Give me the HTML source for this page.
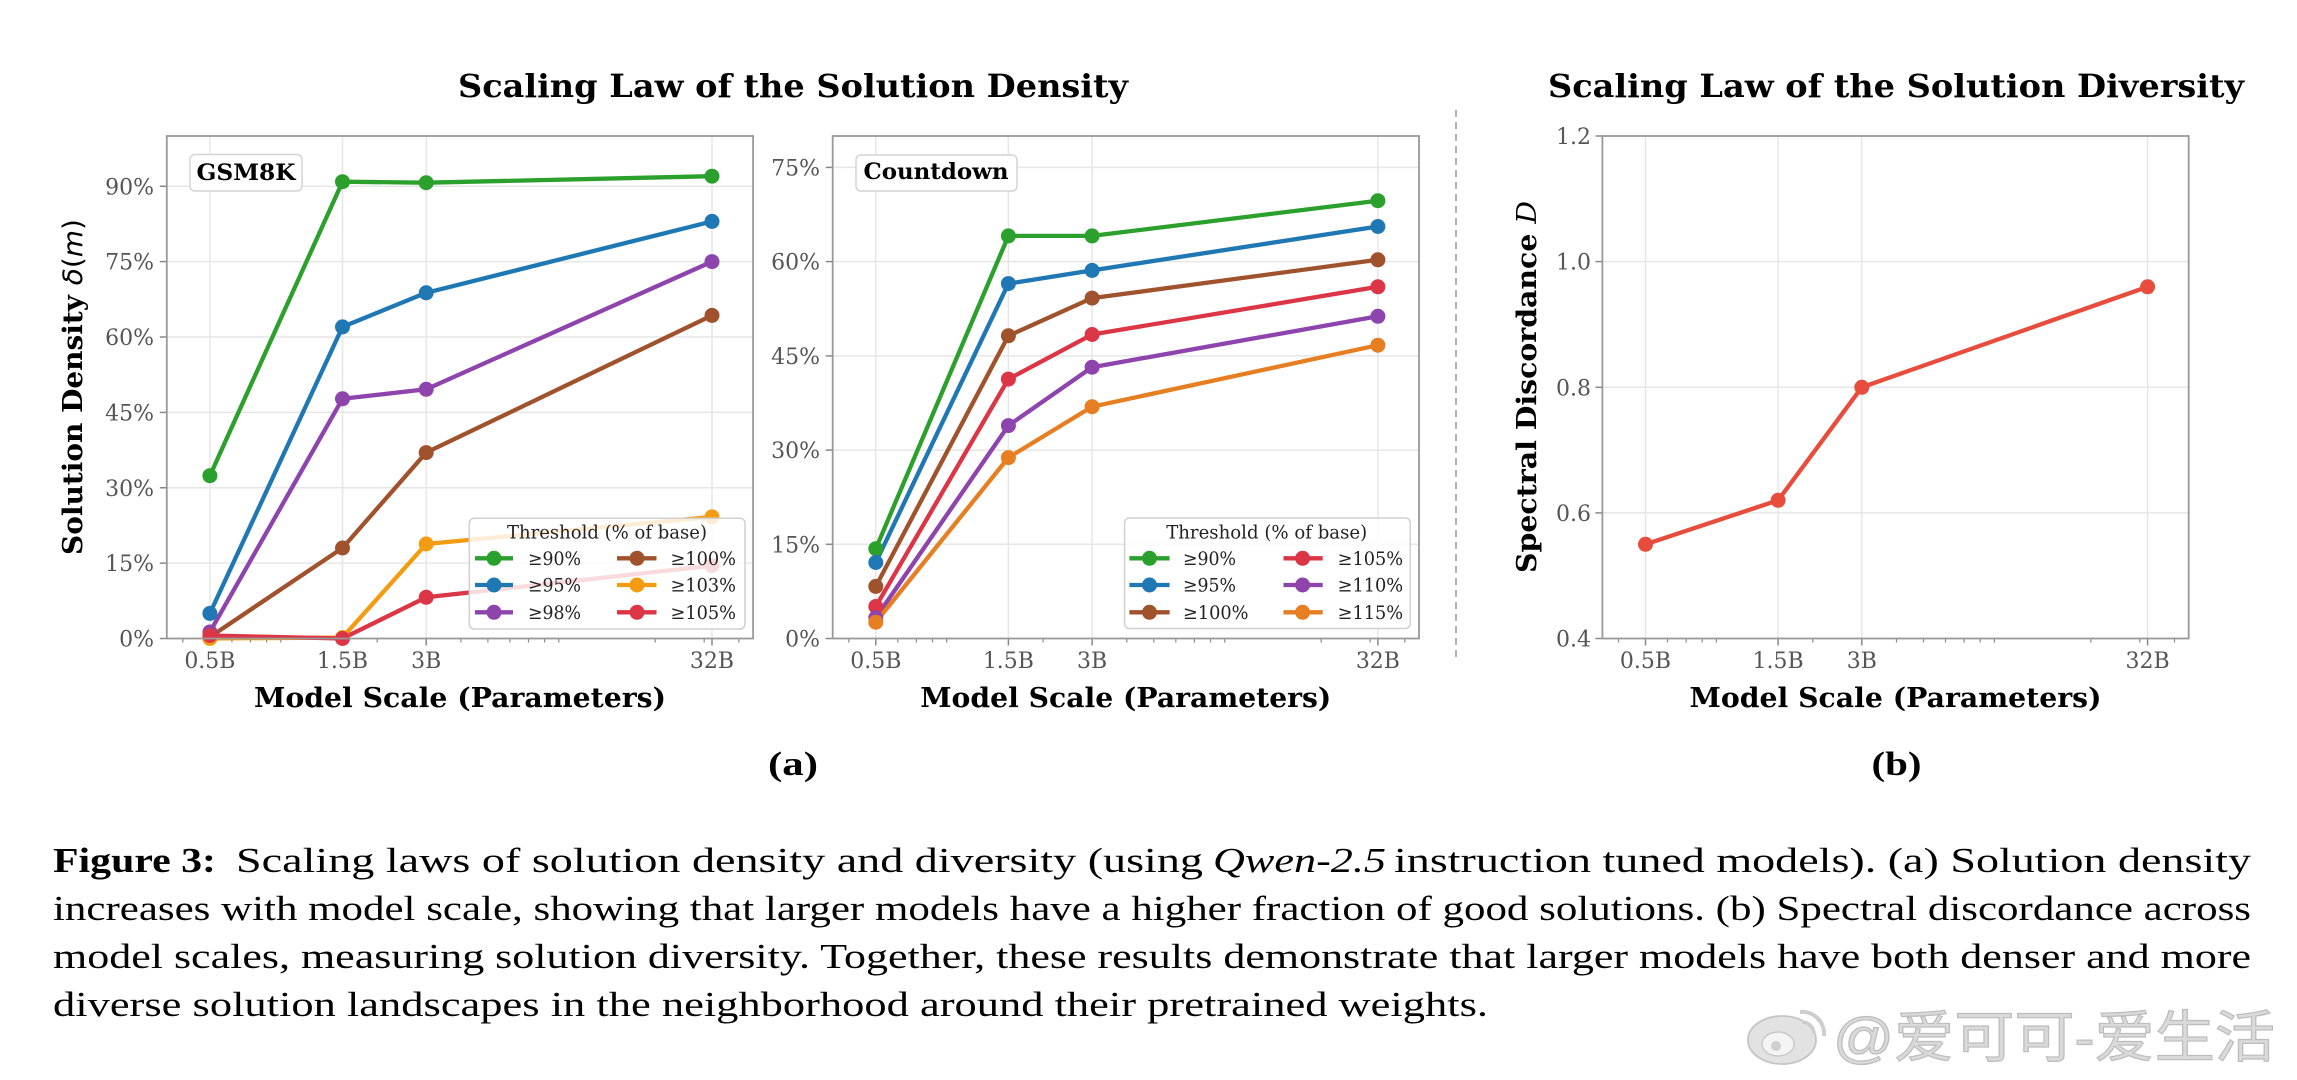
<!DOCTYPE html>
<html>
<head>
<meta charset="utf-8">
<style>
  html,body{margin:0;padding:0;background:#fff;}
  svg{display:block;}
  .tick{font-family:"DejaVu Serif","Liberation Serif",serif;font-size:22px;fill:#555;}
  .lab{font-family:"DejaVu Serif","Liberation Serif",serif;font-weight:bold;fill:#000;}
  .leg{font-family:"DejaVu Serif","Liberation Serif",serif;font-size:18.5px;fill:#222;}
  .cap{font-family:"Liberation Serif",serif;font-size:35px;fill:#000;}
</style>
</head>
<body>
<svg width="2297" height="1080" viewBox="0 0 2297 1080" xmlns="http://www.w3.org/2000/svg">
  <rect width="2297" height="1080" fill="#fff"/>

  <!-- Titles -->
  <text class="lab" x="793" y="97" font-size="32" text-anchor="middle" textLength="670" lengthAdjust="spacingAndGlyphs">Scaling Law of the Solution Density</text>
  <text class="lab" x="1896" y="97" font-size="32" text-anchor="middle" textLength="696" lengthAdjust="spacingAndGlyphs">Scaling Law of the Solution Diversity</text>

  <!-- Divider -->
  <line x1="1456" y1="110" x2="1456" y2="658" stroke="#999" stroke-width="1.5" stroke-dasharray="7,5"/>

  <!-- ============ PANEL A: GSM8K ============ -->
  <g>
    <g stroke="#e6e6e6" stroke-width="1.5">
      <line x1="209.9" y1="136" x2="209.9" y2="638.5"/>
      <line x1="342.5" y1="136" x2="342.5" y2="638.5"/>
      <line x1="426.2" y1="136" x2="426.2" y2="638.5"/>
      <line x1="712.0" y1="136" x2="712.0" y2="638.5"/>
      <line x1="166.8" y1="563.1" x2="753.1" y2="563.1"/>
      <line x1="166.8" y1="487.75" x2="753.1" y2="487.75"/>
      <line x1="166.8" y1="412.4" x2="753.1" y2="412.4"/>
      <line x1="166.8" y1="337" x2="753.1" y2="337"/>
      <line x1="166.8" y1="261.6" x2="753.1" y2="261.6"/>
      <line x1="166.8" y1="186.25" x2="753.1" y2="186.25"/>
    </g>
    <g stroke="#888" stroke-width="1.5">
      <line x1="159.8" y1="638.5" x2="166.8" y2="638.5"/>
      <line x1="159.8" y1="563.1" x2="166.8" y2="563.1"/>
      <line x1="159.8" y1="487.75" x2="166.8" y2="487.75"/>
      <line x1="159.8" y1="412.4" x2="166.8" y2="412.4"/>
      <line x1="159.8" y1="337" x2="166.8" y2="337"/>
      <line x1="159.8" y1="261.6" x2="166.8" y2="261.6"/>
      <line x1="159.8" y1="186.25" x2="166.8" y2="186.25"/>
      <line x1="209.9" y1="638.5" x2="209.9" y2="645.5"/>
      <line x1="342.5" y1="638.5" x2="342.5" y2="645.5"/>
      <line x1="426.2" y1="638.5" x2="426.2" y2="645.5"/>
      <line x1="712.0" y1="638.5" x2="712.0" y2="645.5"/>
    </g>
    <g stroke="#888" stroke-width="1.2">
      <line x1="182.9" y1="638.5" x2="182.9" y2="642.5"/>
      <line x1="231.9" y1="638.5" x2="231.9" y2="642.5"/>
      <line x1="250.5" y1="638.5" x2="250.5" y2="642.5"/>
      <line x1="266.6" y1="638.5" x2="266.6" y2="642.5"/>
      <line x1="280.8" y1="638.5" x2="280.8" y2="642.5"/>
      <line x1="377.2" y1="638.5" x2="377.2" y2="642.5"/>
      <line x1="460.9" y1="638.5" x2="460.9" y2="642.5"/>
      <line x1="487.9" y1="638.5" x2="487.9" y2="642.5"/>
      <line x1="509.9" y1="638.5" x2="509.9" y2="642.5"/>
      <line x1="528.5" y1="638.5" x2="528.5" y2="642.5"/>
      <line x1="544.6" y1="638.5" x2="544.6" y2="642.5"/>
      <line x1="558.8" y1="638.5" x2="558.8" y2="642.5"/>
      <line x1="655.2" y1="638.5" x2="655.2" y2="642.5"/>
      <line x1="704.2" y1="638.5" x2="704.2" y2="642.5"/>
      <line x1="738.9" y1="638.5" x2="738.9" y2="642.5"/>
    </g>
    <g class="tick" text-anchor="end">
      <text x="154" y="646.5">0%</text>
      <text x="154" y="571.1">15%</text>
      <text x="154" y="495.75">30%</text>
      <text x="154" y="420.4">45%</text>
      <text x="154" y="345">60%</text>
      <text x="154" y="269.6">75%</text>
      <text x="154" y="194.25">90%</text>
    </g>
    <g class="tick" text-anchor="middle">
      <text x="209.9" y="668">0.5B</text>
      <text x="342.5" y="668">1.5B</text>
      <text x="426.2" y="668">3B</text>
      <text x="712.0" y="668">32B</text>
    </g>
    <g fill="none" stroke-width="4.3" stroke-linejoin="round" stroke-linecap="round">
      <polyline stroke="#2ca02c" points="209.9,475.7 342.5,181.7 426.2,182.7 712.0,176.2"/>
      <polyline stroke="#1f77b4" points="209.9,613.4 342.5,326.9 426.2,292.8 712.0,221.4"/>
      <polyline stroke="#8e44ad" points="209.9,632.0 342.5,398.8 426.2,389.3 712.0,261.6"/>
      <polyline stroke="#a0522d" points="209.9,637.0 342.5,548.0 426.2,452.6 712.0,315.4"/>
      <polyline stroke="#f39c12" points="209.9,638.5 342.5,637.5 426.2,544.0 712.0,516.9"/>
      <polyline stroke="#dc3545" points="209.9,635.5 342.5,638.5 426.2,597.3 712.0,565.6"/>
    </g>
    <g>
      <g fill="#2ca02c"><circle cx="209.9" cy="475.7" r="7.5"/><circle cx="342.5" cy="181.7" r="7.5"/><circle cx="426.2" cy="182.7" r="7.5"/><circle cx="712.0" cy="176.2" r="7.5"/></g>
      <g fill="#1f77b4"><circle cx="209.9" cy="613.4" r="7.5"/><circle cx="342.5" cy="326.9" r="7.5"/><circle cx="426.2" cy="292.8" r="7.5"/><circle cx="712.0" cy="221.4" r="7.5"/></g>
      <g fill="#8e44ad"><circle cx="209.9" cy="632.0" r="7.5"/><circle cx="342.5" cy="398.8" r="7.5"/><circle cx="426.2" cy="389.3" r="7.5"/><circle cx="712.0" cy="261.6" r="7.5"/></g>
      <g fill="#a0522d"><circle cx="209.9" cy="637.0" r="7.5"/><circle cx="342.5" cy="548.0" r="7.5"/><circle cx="426.2" cy="452.6" r="7.5"/><circle cx="712.0" cy="315.4" r="7.5"/></g>
      <g fill="#f39c12"><circle cx="209.9" cy="638.5" r="7.5"/><circle cx="342.5" cy="637.5" r="7.5"/><circle cx="426.2" cy="544.0" r="7.5"/><circle cx="712.0" cy="516.9" r="7.5"/></g>
      <g fill="#dc3545"><circle cx="209.9" cy="635.5" r="7.5"/><circle cx="342.5" cy="638.5" r="7.5"/><circle cx="426.2" cy="597.3" r="7.5"/><circle cx="712.0" cy="565.6" r="7.5"/></g>
    </g>
    <rect x="190" y="154.5" width="112" height="36.5" rx="5" fill="#fff" stroke="#d4d4d4" stroke-width="1.5"/>
    <text class="lab" x="246" y="180" font-size="22" text-anchor="middle" textLength="99" lengthAdjust="spacingAndGlyphs">GSM8K</text>
    <rect x="469.3" y="518.3" width="275.7" height="110.7" rx="5" fill="#fff" fill-opacity="0.82" stroke="#d0d0d0" stroke-width="1.5"/>
    <text class="leg" x="607" y="538.5" text-anchor="middle" textLength="200" lengthAdjust="spacingAndGlyphs">Threshold (% of base)</text>
    <g stroke-width="4.3">
      <line x1="475" y1="558.3" x2="513" y2="558.3" stroke="#2ca02c"/>
      <line x1="475" y1="585" x2="513" y2="585" stroke="#1f77b4"/>
      <line x1="475" y1="612.3" x2="513" y2="612.3" stroke="#8e44ad"/>
      <line x1="617" y1="558.3" x2="656.5" y2="558.3" stroke="#a0522d"/>
      <line x1="617" y1="585" x2="656.5" y2="585" stroke="#f39c12"/>
      <line x1="617" y1="612.3" x2="656.5" y2="612.3" stroke="#dc3545"/>
    </g>
    <circle cx="494" cy="558.3" r="7.5" fill="#2ca02c"/>
    <circle cx="494" cy="585" r="7.5" fill="#1f77b4"/>
    <circle cx="494" cy="612.3" r="7.5" fill="#8e44ad"/>
    <circle cx="637" cy="558.3" r="7.5" fill="#a0522d"/>
    <circle cx="637" cy="585" r="7.5" fill="#f39c12"/>
    <circle cx="637" cy="612.3" r="7.5" fill="#dc3545"/>
    <g class="leg">
      <text x="528" y="564.8" textLength="53" lengthAdjust="spacingAndGlyphs">≥90%</text>
      <text x="528" y="591.5" textLength="53" lengthAdjust="spacingAndGlyphs">≥95%</text>
      <text x="528" y="618.8" textLength="53" lengthAdjust="spacingAndGlyphs">≥98%</text>
      <text x="670.5" y="564.8" textLength="65.5" lengthAdjust="spacingAndGlyphs">≥100%</text>
      <text x="670.5" y="591.5" textLength="65.5" lengthAdjust="spacingAndGlyphs">≥103%</text>
      <text x="670.5" y="618.8" textLength="65.5" lengthAdjust="spacingAndGlyphs">≥105%</text>
    </g>
    <rect x="166.8" y="136" width="586.3" height="502.5" fill="none" stroke="#999" stroke-width="1.8"/>
    <text class="lab" x="460" y="707" font-size="27" text-anchor="middle" textLength="412" lengthAdjust="spacingAndGlyphs">Model Scale (Parameters)</text>
    <text class="lab" transform="translate(82,387) rotate(-90)" font-size="27" text-anchor="middle" textLength="336" lengthAdjust="spacingAndGlyphs">Solution Density <tspan font-family="DejaVu Sans" font-weight="normal" font-style="italic">δ</tspan><tspan font-family="DejaVu Sans" font-weight="normal">(</tspan><tspan font-family="DejaVu Sans" font-weight="normal" font-style="italic">m</tspan><tspan font-family="DejaVu Sans" font-weight="normal">)</tspan></text>
  </g>

  <!-- ============ PANEL B: Countdown ============ -->
  <g>
    <g stroke="#e6e6e6" stroke-width="1.5">
      <line x1="875.8" y1="136" x2="875.8" y2="638.5"/>
      <line x1="1008.4" y1="136" x2="1008.4" y2="638.5"/>
      <line x1="1092.1" y1="136" x2="1092.1" y2="638.5"/>
      <line x1="1377.9" y1="136" x2="1377.9" y2="638.5"/>
      <line x1="832.7" y1="544.3" x2="1419" y2="544.3"/>
      <line x1="832.7" y1="450.1" x2="1419" y2="450.1"/>
      <line x1="832.7" y1="355.9" x2="1419" y2="355.9"/>
      <line x1="832.7" y1="261.6" x2="1419" y2="261.6"/>
      <line x1="832.7" y1="167.4" x2="1419" y2="167.4"/>
    </g>
    <g stroke="#888" stroke-width="1.5">
      <line x1="825.7" y1="638.5" x2="832.7" y2="638.5"/>
      <line x1="825.7" y1="544.3" x2="832.7" y2="544.3"/>
      <line x1="825.7" y1="450.1" x2="832.7" y2="450.1"/>
      <line x1="825.7" y1="355.9" x2="832.7" y2="355.9"/>
      <line x1="825.7" y1="261.6" x2="832.7" y2="261.6"/>
      <line x1="825.7" y1="167.4" x2="832.7" y2="167.4"/>
      <line x1="875.8" y1="638.5" x2="875.8" y2="645.5"/>
      <line x1="1008.4" y1="638.5" x2="1008.4" y2="645.5"/>
      <line x1="1092.1" y1="638.5" x2="1092.1" y2="645.5"/>
      <line x1="1377.9" y1="638.5" x2="1377.9" y2="645.5"/>
    </g>
    <g stroke="#888" stroke-width="1.2">
      <line x1="848.8" y1="638.5" x2="848.8" y2="642.5"/>
      <line x1="897.8" y1="638.5" x2="897.8" y2="642.5"/>
      <line x1="916.4" y1="638.5" x2="916.4" y2="642.5"/>
      <line x1="932.5" y1="638.5" x2="932.5" y2="642.5"/>
      <line x1="946.7" y1="638.5" x2="946.7" y2="642.5"/>
      <line x1="1043.1" y1="638.5" x2="1043.1" y2="642.5"/>
      <line x1="1126.8" y1="638.5" x2="1126.8" y2="642.5"/>
      <line x1="1153.8" y1="638.5" x2="1153.8" y2="642.5"/>
      <line x1="1175.8" y1="638.5" x2="1175.8" y2="642.5"/>
      <line x1="1194.4" y1="638.5" x2="1194.4" y2="642.5"/>
      <line x1="1210.5" y1="638.5" x2="1210.5" y2="642.5"/>
      <line x1="1224.7" y1="638.5" x2="1224.7" y2="642.5"/>
      <line x1="1321.1" y1="638.5" x2="1321.1" y2="642.5"/>
      <line x1="1370.1" y1="638.5" x2="1370.1" y2="642.5"/>
      <line x1="1404.8" y1="638.5" x2="1404.8" y2="642.5"/>
    </g>
    <g class="tick" text-anchor="end">
      <text x="820" y="646.5">0%</text>
      <text x="820" y="552.3">15%</text>
      <text x="820" y="458.1">30%</text>
      <text x="820" y="363.9">45%</text>
      <text x="820" y="269.6">60%</text>
      <text x="820" y="175.4">75%</text>
    </g>
    <g class="tick" text-anchor="middle">
      <text x="875.8" y="668">0.5B</text>
      <text x="1008.4" y="668">1.5B</text>
      <text x="1092.1" y="668">3B</text>
      <text x="1377.9" y="668">32B</text>
    </g>
    <g fill="none" stroke-width="4.3" stroke-linejoin="round" stroke-linecap="round">
      <polyline stroke="#2ca02c" points="875.8,548.7 1008.4,235.9 1092.1,235.9 1377.9,200.7"/>
      <polyline stroke="#1f77b4" points="875.8,562.5 1008.4,283.6 1092.1,270.4 1377.9,226.5"/>
      <polyline stroke="#a0522d" points="875.8,586.4 1008.4,335.8 1092.1,298.1 1377.9,259.8"/>
      <polyline stroke="#dc3545" points="875.8,606.5 1008.4,379.1 1092.1,334.5 1377.9,286.8"/>
      <polyline stroke="#8e44ad" points="875.8,617.8 1008.4,425.6 1092.1,367.2 1377.9,316.3"/>
      <polyline stroke="#e67e22" points="875.8,622.2 1008.4,457.6 1092.1,406.7 1377.9,345.2"/>
    </g>
    <g>
      <g fill="#2ca02c"><circle cx="875.8" cy="548.7" r="7.5"/><circle cx="1008.4" cy="235.9" r="7.5"/><circle cx="1092.1" cy="235.9" r="7.5"/><circle cx="1377.9" cy="200.7" r="7.5"/></g>
      <g fill="#1f77b4"><circle cx="875.8" cy="562.5" r="7.5"/><circle cx="1008.4" cy="283.6" r="7.5"/><circle cx="1092.1" cy="270.4" r="7.5"/><circle cx="1377.9" cy="226.5" r="7.5"/></g>
      <g fill="#a0522d"><circle cx="875.8" cy="586.4" r="7.5"/><circle cx="1008.4" cy="335.8" r="7.5"/><circle cx="1092.1" cy="298.1" r="7.5"/><circle cx="1377.9" cy="259.8" r="7.5"/></g>
      <g fill="#dc3545"><circle cx="875.8" cy="606.5" r="7.5"/><circle cx="1008.4" cy="379.1" r="7.5"/><circle cx="1092.1" cy="334.5" r="7.5"/><circle cx="1377.9" cy="286.8" r="7.5"/></g>
      <g fill="#8e44ad"><circle cx="875.8" cy="617.8" r="7.5"/><circle cx="1008.4" cy="425.6" r="7.5"/><circle cx="1092.1" cy="367.2" r="7.5"/><circle cx="1377.9" cy="316.3" r="7.5"/></g>
      <g fill="#e67e22"><circle cx="875.8" cy="622.2" r="7.5"/><circle cx="1008.4" cy="457.6" r="7.5"/><circle cx="1092.1" cy="406.7" r="7.5"/><circle cx="1377.9" cy="345.2" r="7.5"/></g>
    </g>
    <rect x="856" y="155" width="161" height="36" rx="5" fill="#fff" stroke="#d4d4d4" stroke-width="1.5"/>
    <text class="lab" x="936" y="179" font-size="22" text-anchor="middle" textLength="145" lengthAdjust="spacingAndGlyphs">Countdown</text>
    <rect x="1124.6" y="518" width="285.7" height="110.5" rx="5" fill="#fff" fill-opacity="0.82" stroke="#d0d0d0" stroke-width="1.5"/>
    <text class="leg" x="1266.7" y="538.5" text-anchor="middle" textLength="201" lengthAdjust="spacingAndGlyphs">Threshold (% of base)</text>
    <g stroke-width="4.3">
      <line x1="1129.4" y1="558.3" x2="1169.6" y2="558.3" stroke="#2ca02c"/>
      <line x1="1129.4" y1="585" x2="1169.6" y2="585" stroke="#1f77b4"/>
      <line x1="1129.4" y1="612.3" x2="1169.6" y2="612.3" stroke="#a0522d"/>
      <line x1="1283.5" y1="558.3" x2="1322.7" y2="558.3" stroke="#dc3545"/>
      <line x1="1283.5" y1="585" x2="1322.7" y2="585" stroke="#8e44ad"/>
      <line x1="1283.5" y1="612.3" x2="1322.7" y2="612.3" stroke="#e67e22"/>
    </g>
    <circle cx="1149.5" cy="558.3" r="7.5" fill="#2ca02c"/>
    <circle cx="1149.5" cy="585" r="7.5" fill="#1f77b4"/>
    <circle cx="1149.5" cy="612.3" r="7.5" fill="#a0522d"/>
    <circle cx="1302.6" cy="558.3" r="7.5" fill="#dc3545"/>
    <circle cx="1302.6" cy="585" r="7.5" fill="#8e44ad"/>
    <circle cx="1302.6" cy="612.3" r="7.5" fill="#e67e22"/>
    <g class="leg">
      <text x="1183" y="564.8" textLength="53" lengthAdjust="spacingAndGlyphs">≥90%</text>
      <text x="1183" y="591.5" textLength="53" lengthAdjust="spacingAndGlyphs">≥95%</text>
      <text x="1183" y="618.8" textLength="65.5" lengthAdjust="spacingAndGlyphs">≥100%</text>
      <text x="1337.6" y="564.8" textLength="65.5" lengthAdjust="spacingAndGlyphs">≥105%</text>
      <text x="1337.6" y="591.5" textLength="65.5" lengthAdjust="spacingAndGlyphs">≥110%</text>
      <text x="1337.6" y="618.8" textLength="65.5" lengthAdjust="spacingAndGlyphs">≥115%</text>
    </g>
    <rect x="832.7" y="136" width="586.3" height="502.5" fill="none" stroke="#999" stroke-width="1.8"/>
    <text class="lab" x="1125.8" y="707" font-size="27" text-anchor="middle" textLength="411" lengthAdjust="spacingAndGlyphs">Model Scale (Parameters)</text>
  </g>

  <!-- ============ PANEL C: Diversity ============ -->
  <g>
    <g stroke="#e6e6e6" stroke-width="1.5">
      <line x1="1645.5" y1="136" x2="1645.5" y2="638.5"/>
      <line x1="1778.1" y1="136" x2="1778.1" y2="638.5"/>
      <line x1="1861.8" y1="136" x2="1861.8" y2="638.5"/>
      <line x1="2147.6" y1="136" x2="2147.6" y2="638.5"/>
      <line x1="1602.4" y1="512.9" x2="2188.7" y2="512.9"/>
      <line x1="1602.4" y1="387.3" x2="2188.7" y2="387.3"/>
      <line x1="1602.4" y1="261.6" x2="2188.7" y2="261.6"/>
    </g>
    <g stroke="#888" stroke-width="1.5">
      <line x1="1595.4" y1="638.5" x2="1602.4" y2="638.5"/>
      <line x1="1595.4" y1="512.9" x2="1602.4" y2="512.9"/>
      <line x1="1595.4" y1="387.3" x2="1602.4" y2="387.3"/>
      <line x1="1595.4" y1="261.6" x2="1602.4" y2="261.6"/>
      <line x1="1595.4" y1="136" x2="1602.4" y2="136"/>
      <line x1="1645.5" y1="638.5" x2="1645.5" y2="645.5"/>
      <line x1="1778.1" y1="638.5" x2="1778.1" y2="645.5"/>
      <line x1="1861.8" y1="638.5" x2="1861.8" y2="645.5"/>
      <line x1="2147.6" y1="638.5" x2="2147.6" y2="645.5"/>
    </g>
    <g stroke="#888" stroke-width="1.2">
      <line x1="1618.5" y1="638.5" x2="1618.5" y2="642.5"/>
      <line x1="1667.5" y1="638.5" x2="1667.5" y2="642.5"/>
      <line x1="1686.1" y1="638.5" x2="1686.1" y2="642.5"/>
      <line x1="1702.2" y1="638.5" x2="1702.2" y2="642.5"/>
      <line x1="1716.4" y1="638.5" x2="1716.4" y2="642.5"/>
      <line x1="1812.8" y1="638.5" x2="1812.8" y2="642.5"/>
      <line x1="1896.5" y1="638.5" x2="1896.5" y2="642.5"/>
      <line x1="1923.5" y1="638.5" x2="1923.5" y2="642.5"/>
      <line x1="1945.5" y1="638.5" x2="1945.5" y2="642.5"/>
      <line x1="1964.1" y1="638.5" x2="1964.1" y2="642.5"/>
      <line x1="1980.2" y1="638.5" x2="1980.2" y2="642.5"/>
      <line x1="1994.4" y1="638.5" x2="1994.4" y2="642.5"/>
      <line x1="2090.8" y1="638.5" x2="2090.8" y2="642.5"/>
      <line x1="2139.8" y1="638.5" x2="2139.8" y2="642.5"/>
      <line x1="2174.5" y1="638.5" x2="2174.5" y2="642.5"/>
    </g>
    <g class="tick" text-anchor="end">
      <text x="1591" y="646.5">0.4</text>
      <text x="1591" y="520.9">0.6</text>
      <text x="1591" y="395.3">0.8</text>
      <text x="1591" y="269.6">1.0</text>
      <text x="1591" y="144">1.2</text>
    </g>
    <g class="tick" text-anchor="middle">
      <text x="1645.5" y="668">0.5B</text>
      <text x="1778.1" y="668">1.5B</text>
      <text x="1861.8" y="668">3B</text>
      <text x="2147.6" y="668">32B</text>
    </g>
    <polyline fill="none" stroke="#e74c3c" stroke-width="4.3" stroke-linejoin="round" stroke-linecap="round" points="1645.5,544.3 1778.1,500.3 1861.8,387.3 2147.6,286.8"/>
    <g fill="#e74c3c">
      <circle cx="1645.5" cy="544.3" r="7.5"/>
      <circle cx="1778.1" cy="500.3" r="7.5"/>
      <circle cx="1861.8" cy="387.3" r="7.5"/>
      <circle cx="2147.6" cy="286.8" r="7.5"/>
    </g>
    <rect x="1602.4" y="136" width="586.3" height="502.5" fill="none" stroke="#999" stroke-width="1.8"/>
    <text class="lab" x="1895.5" y="707" font-size="27" text-anchor="middle" textLength="412" lengthAdjust="spacingAndGlyphs">Model Scale (Parameters)</text>
    <text class="lab" transform="translate(1536,387) rotate(-90)" font-size="27" text-anchor="middle" textLength="372" lengthAdjust="spacingAndGlyphs">Spectral Discordance <tspan font-family="DejaVu Serif" font-weight="normal" font-style="italic">D</tspan></text>
  </g>

  <!-- sub labels -->
  <text x="793" y="775" font-family="Liberation Serif, serif" font-weight="bold" font-size="34" text-anchor="middle" textLength="50" lengthAdjust="spacingAndGlyphs">(a)</text>
  <text x="1896.5" y="775" font-family="Liberation Serif, serif" font-weight="bold" font-size="34" text-anchor="middle" textLength="50" lengthAdjust="spacingAndGlyphs">(b)</text>

  <!-- caption -->
  <text class="cap" x="53" y="872" font-weight="bold" textLength="163" lengthAdjust="spacingAndGlyphs">Figure 3:</text>
  <text class="cap" x="236" y="872" textLength="967" lengthAdjust="spacingAndGlyphs">Scaling laws of solution density and diversity (using</text>
  <text class="cap" x="1213" y="872" font-style="italic" textLength="173" lengthAdjust="spacingAndGlyphs">Qwen-2.5</text>
  <text class="cap" x="1394" y="872" textLength="857" lengthAdjust="spacingAndGlyphs">instruction tuned models).  (a) Solution density</text>
  <text class="cap" x="53" y="920" textLength="2198" lengthAdjust="spacingAndGlyphs">increases with model scale, showing that larger models have a higher fraction of good solutions. (b) Spectral discordance across</text>
  <text class="cap" x="53" y="968" textLength="2198" lengthAdjust="spacingAndGlyphs">model scales, measuring solution diversity. Together, these results demonstrate that larger models have both denser and more</text>
  <text class="cap" x="53" y="1016" textLength="1435" lengthAdjust="spacingAndGlyphs">diverse solution landscapes in the neighborhood around their pretrained weights.</text>

  <!-- watermark -->
  <g>
    <ellipse cx="1782" cy="1040" rx="34" ry="24" fill="#e2e2e2" stroke="#c4c4c4" stroke-width="1.8"/>
    <ellipse cx="1778" cy="1044" rx="16" ry="12" fill="#f4f4f4" stroke="#c8c8c8" stroke-width="1.4"/>
    <circle cx="1776" cy="1046" r="5" fill="#cfcfcf"/>
    <path d="M1800,1012 a22,22 0 0 1 24,24" fill="none" stroke="#cdcdcd" stroke-width="4"/>
    <path d="M1802,1022 a12,12 0 0 1 12,12" fill="none" stroke="#cdcdcd" stroke-width="3.5"/>
    <text x="1833" y="1057" font-family="'Liberation Sans','Noto Sans CJK SC','WenQuanYi Zen Hei',sans-serif" font-size="56" fill="#dadada" stroke="#bdbdbd" stroke-width="1.2" textLength="442" lengthAdjust="spacingAndGlyphs">@爱可可-爱生活</text>
  </g>
</svg>
</body>
</html>
